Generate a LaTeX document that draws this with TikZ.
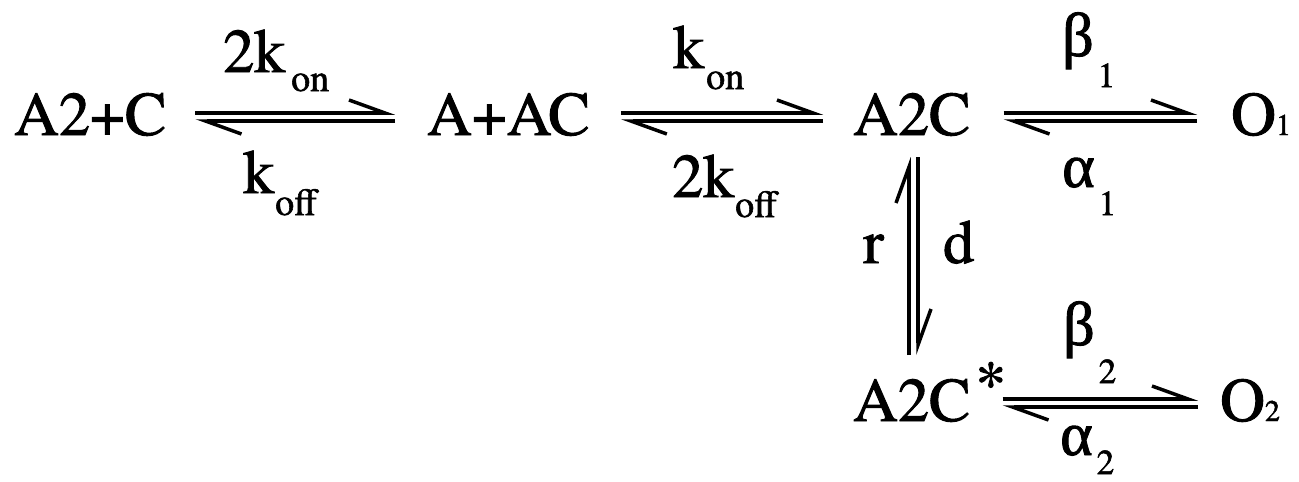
\documentclass[tikz,border=0pt]{standalone}
\usepackage{fontspec}
\setmainfont{texgyretermes}[Extension=.otf, UprightFont=*-regular, BoldFont=*-bold, FakeBold=1.5]
\newfontfamily\greekfont{Liberation Serif}[FakeBold=1.5]
\usetikzlibrary{arrows.meta, calc}

\newcommand{\dropsub}[2]{\raisebox{-#1pt}{\fontsize{38}{38}\selectfont #2}}
\newcommand{\dropnum}[2]{\raisebox{-#1pt}{\fontsize{35}{35}\selectfont #2}}
\newcommand{\smallnum}[1]{{\fontsize{30}{30}\selectfont #1}}

\begin{document}
\begin{tikzpicture}[x=1pt, y=-1pt,
    every node/.style={inner sep=0pt, anchor=base west, font=\fontsize{62}{70}\selectfont},
    fwd/.style={line width=3.5pt, -{Straight Barb[left, length=36pt, width=26pt]}}]
    \useasboundingbox (0,0) rectangle (1299,482);

    % species
    \node (a2cc) at (14,135) {A2+C};
    \node (aac) at (427,135) {A+AC};
    \node (a2c) at (853,135) {A2C};
    \node (o1) at (1231,135) {O\smallnum{1}};
    \node (a2cs) at (853,421) {A2C\hspace{5pt}\raisebox{17pt}{*}};
    \node (o2) at (1220,421) {O\smallnum{2}};

    % rate constants
    \node (kon2) at (223,72) {2k\hspace{6pt}\dropsub{19}{on}};
    \node (koff1) at (243,193) {k\hspace{1pt}\dropsub{22}{off}};
    \node (kon1) at (673,68) {k\hspace{2pt}\dropsub{21}{on}};
    \node (koff2) at (672,197) {2k\hspace{1pt}\dropsub{20}{off}};
    \node (beta1) at (1062,56) {{\greekfont β}\hspace{4pt}\dropnum{31}{1}};
    \node (alpha1) at (1062,187) {{\greekfont α}\hspace{4pt}\dropnum{28}{1}};
    \node (beta2) at (1063,345) {{\greekfont β}\hspace{4pt}\dropnum{38}{2}};
    \node (alpha2) at (1060,455) {{\greekfont α}\hspace{4pt}\dropnum{19}{2}};
    \node (rr) at (863,263) {r};
    \node (dd) at (943,263) {d};

    % reactions
    \draw[fwd] ($(a2cc.base east)+(29,-22)$) -- ($(aac.base west)+(-32,-22)$);
    \draw[fwd] ($(aac.base west)+(-32,-14)$) -- ($(a2cc.base east)+(29,-14)$);
    \draw[fwd] ($(aac.base east)+(31,-22)$) -- ($(a2c.base west)+(-30,-22)$);
    \draw[fwd] ($(a2c.base west)+(-30,-14)$) -- ($(aac.base east)+(31,-14)$);
    \draw[fwd] ($(a2c.base east)+(33,-22)$) -- ($(o1.base west)+(-34,-22)$);
    \draw[fwd] ($(o1.base west)+(-34,-14)$) -- ($(a2c.base east)+(33,-14)$);
    \draw[fwd] ($(a2cs.base east)+(-4,-22)$) -- ($(o2.base west)+(-22,-22)$);
    \draw[fwd] ($(o2.base west)+(-22,-14)$) -- ($(a2cs.base east)+(-4,-14)$);
    \draw[fwd] ($(a2cs.base west)+(56,-66)$) -- ($(a2c.base west)+(56,22)$);
    \draw[fwd] ($(a2c.base west)+(65,22)$) -- ($(a2cs.base west)+(65,-66)$);
\end{tikzpicture}
\end{document}
